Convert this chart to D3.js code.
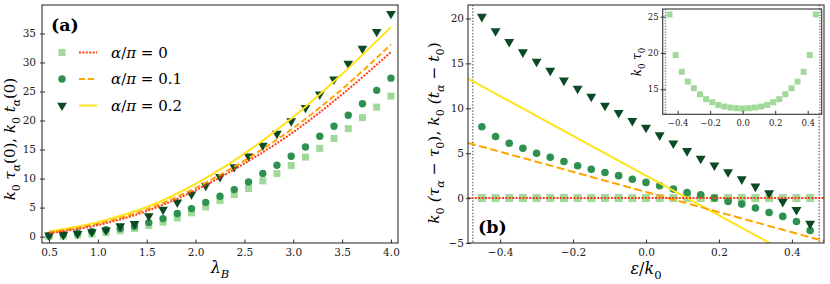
<!DOCTYPE html>
<html>
<head>
<meta charset="utf-8">
<script src="https://cdn.jsdelivr.net/npm/d3@7"></script>
<style>
  body { margin: 0; background: #fff; }
</style>
</head>
<body>
<svg width="830" height="284"></svg>
<script>
// ---- data ----
// panel (a): x = lambda_B
var lambdaB = [0.5, 0.646, 0.792, 0.938, 1.083, 1.229, 1.375, 1.521, 1.667, 1.813, 1.958, 2.104,
  2.25, 2.396, 2.542, 2.688, 2.833, 2.979, 3.125, 3.271, 3.417, 3.563, 3.708, 3.854, 4.0];
var tauA0 = [0.0, 0.1, 0.25, 0.45, 0.7, 1.0, 1.4, 1.9, 2.5, 3.2, 4.1, 5.1,
  6.2, 7.24, 8.28, 9.6, 10.86, 12.24, 13.7, 15.2, 16.9, 18.6, 20.5, 22.3, 24.2];
var tauA1 = [0.22, 0.4, 0.62, 0.91, 1.2, 1.4, 1.78, 2.41, 3.1, 3.97, 4.83, 5.9,
  6.95, 8.1, 9.4, 10.86, 12.3, 13.85, 15.45, 17.3, 19.0, 20.9, 22.9, 25.2, 27.3];
var tauA2 = [0.22, 0.3, 0.5, 0.8, 1.1, 1.8, 2.2, 3.55, 4.65, 5.9, 7.3, 8.8,
  10.3, 12.0, 13.85, 15.7, 17.75, 19.9, 22.2, 24.5, 27.1, 29.8, 32.4, 35.3, 38.4];
// t_alpha(0) curves
var lineLam = [0.5, 1.0, 1.5, 2.0, 2.5, 3.0, 3.5, 4.0];
var tA0 = [0.6, 2.0, 4.4, 8.0, 12.6, 18.0, 24.5, 31.8];
var tA1 = [0.7, 2.2, 4.7, 8.4, 13.1, 18.7, 25.4, 33.1];
var tA2 = [0.9, 2.5, 5.1, 9.1, 14.3, 20.6, 28.0, 36.1];

// panel (b): x = epsilon / k0
var eps = [-0.45, -0.4125, -0.375, -0.3375, -0.3, -0.2625, -0.225, -0.1875, -0.15, -0.1125, -0.075, -0.0375, 0,
  0.0375, 0.075, 0.1125, 0.15, 0.1875, 0.225, 0.2625, 0.3, 0.3375, 0.375, 0.4125, 0.45];
var dTau0 = [0, 0, 0, 0, 0, 0, 0, 0, 0, 0, 0, 0, 0, 0, 0, 0, 0, 0, 0, 0, 0, 0, 0, 0, 0];
var dTau1 = [7.95, 6.85, 6.1, 5.55, 5.0, 4.55, 4.07, 3.6, 3.2, 2.85, 2.5, 2.1, 1.75,
  1.37, 1.0, 0.62, 0.37, 0.0, -0.37, -0.67, -1.1, -1.6, -2.04, -2.6, -3.6];
var dTau2 = [20.2, 18.6, 17.4, 16.25, 15.2, 14.2, 13.1, 12.2, 11.3, 10.3, 9.5, 8.6, 7.85,
  7.0, 6.1, 5.25, 4.4, 3.65, 2.9, 2.1, 1.3, 0.55, -0.4, -1.3, -2.85];
var lineEps = [-0.488, 0, 0.488];
var dt0 = [0, 0, 0];
var dt1 = [6.15, 0.68, -4.79];
var dt2 = [13.3, 2.5, -8.3];
var edgeEps = [-0.475, 0.475];
// inset: k0 tau0
var tau0 = [25.3, 19.7, 17.4, 16.05, 15.14, 14.31, 13.63, 13.21, 12.84, 12.61, 12.48, 12.39, 12.34,
  12.39, 12.48, 12.61, 12.84, 13.21, 13.63, 14.31, 15.14, 16.05, 17.4, 19.7, 25.3];

var ticksA_x = [0.5, 1.0, 1.5, 2.0, 2.5, 3.0, 3.5, 4.0];
var ticksA_y = [0, 5, 10, 15, 20, 25, 30, 35];
var ticksB_x = [-0.4, -0.2, 0.0, 0.2, 0.4];
var ticksB_y = [-5, 0, 5, 10, 15, 20];
var ticksI_y = [15, 20, 25];

var legendLabels = ['0', '0.1', '0.2'];

var serif = '"DejaVu Serif", serif';

// ---- style ----
var cSq = '#a1d99b', cCi = '#2e9150', cTr = '#0b4a25';
var cRed = '#ff3c14', cOrange = '#ffa500', cYellow = '#ffe31a';
var frameColor = '#333';

var svg = d3.select('svg').attr('font-family', serif);
var minus = function(d) { return d3.format('.1f')(d).replace('-', '\u2212'); };
var intMinus = function(d) { return String(d).replace('-', '\u2212'); };

// little helper for math-ish labels: parts = [[text, flags]], flags: i = italic, s = subscript
function mathText(t, parts, fs) {
  var shift = 0;
  t.attr('font-family', serif);
  parts.forEach(function(p) {
    var sub = p[1].indexOf('s') >= 0;
    var target = sub ? fs * 0.3 : 0;
    t.append('tspan')
      .attr('dy', target - shift)
      .attr('font-style', p[1].indexOf('i') >= 0 ? 'italic' : 'normal')
      .attr('font-size', sub ? fs * 0.72 : fs)
      .text(p[0]);
    shift = target;
  });
}

function drawAxes(g, x, y, xt, yt, fs, xfmt, yfmt, padY) {
  var h = y.range()[0], w0 = x.range()[0];
  var ax = g.append('g').attr('transform', 'translate(0,' + h + ')')
    .call(d3.axisBottom(x).tickValues(xt).tickSizeInner(-3.5).tickSizeOuter(0).tickPadding(6).tickFormat(xfmt));
  var ay = g.append('g').attr('transform', 'translate(' + w0 + ',0)')
    .call(d3.axisLeft(y).tickValues(yt).tickSizeInner(-3).tickSizeOuter(0).tickPadding(padY).tickFormat(yfmt));
  ay.selectAll('.tick line').attr('x1', -2);
  [ax, ay].forEach(function(a) {
    a.attr('font-family', serif);
    a.select('.domain').remove();
    a.selectAll('.tick line').attr('stroke', frameColor);
    a.selectAll('text').attr('font-size', fs).attr('fill', '#222');
  });
}

function frame(g, x, y) {
  g.append('rect')
    .attr('x', x.range()[0]).attr('y', y.range()[1])
    .attr('width', x.range()[1] - x.range()[0]).attr('height', y.range()[0] - y.range()[1])
    .attr('fill', 'none').attr('stroke', frameColor).attr('stroke-width', 1.1);
}

function markers(g, xs, ys, x, y, kind, color, s) {
  var pts = xs.map(function(d, i) { return [x(d), y(ys[i])]; });
  var sym = kind === 'sq' ? d3.symbolSquare : kind === 'ci' ? d3.symbolCircle : d3.symbolTriangle;
  var area = kind === 'sq' ? s * s : kind === 'ci' ? Math.PI * s * s / 4 : s * s * 0.55;
  g.selectAll(null).data(pts).enter().append('path')
    .attr('d', d3.symbol().type(sym).size(area))
    .attr('transform', function(d) { return 'translate(' + d[0] + ',' + d[1] + ')' + (kind === 'tr' ? ' rotate(180)' : ''); })
    .attr('fill', color);
}

function curve(g, xs, ys, x, y, color, dash, lw, clip) {
  var line = d3.line().x(function(d) { return x(d[0]); }).y(function(d) { return y(d[1]); })
    .curve(d3.curveMonotoneX);
  var p = g.append('path').datum(xs.map(function(d, i) { return [d, ys[i]]; }))
    .attr('d', line).attr('fill', 'none').attr('stroke', color).attr('stroke-width', lw);
  if (dash) p.attr('stroke-dasharray', dash);
  if (clip) p.attr('clip-path', clip);
}

// ===================== panel (a) =====================
var xA = d3.scaleLinear().domain([0.428, 4.072]).range([42, 398]);
var yA = d3.scaleLinear().domain([-1.1, 39.9]).range([243, 5]);
var gA = svg.append('g');
markers(gA, lambdaB, tauA0, xA, yA, 'sq', cSq, 7);
markers(gA, lambdaB, tauA1, xA, yA, 'ci', cCi, 7.4);
markers(gA, lambdaB, tauA2, xA, yA, 'tr', cTr, 8.6);
curve(gA, lineLam, tA2, xA, yA, cYellow, null, 2);
curve(gA, lineLam, tA1, xA, yA, cOrange, '6,3', 2);
curve(gA, lineLam, tA0, xA, yA, cRed, '2,1.4', 2);
drawAxes(gA, xA, yA, ticksA_x, ticksA_y, 10.5, d3.format('.1f'), d3.format('d'), 6);
frame(gA, xA, yA);

gA.append('text').attr('x', 51).attr('y', 31).attr('font-size', 17.5).attr('font-weight', 'bold').text('(a)');

// legend
var legColors = [cSq, cCi, cTr];
var legKinds = ['sq', 'ci', 'tr'];
var legLines = [[cRed, '2,1.4'], [cOrange, '6,3'], [cYellow, null]];
legendLabels.forEach(function(lab, i) {
  var yy = 52.5 + i * 26.5;
  var lg = gA.append('g');
  var sym = legKinds[i] === 'sq' ? d3.symbolSquare : legKinds[i] === 'ci' ? d3.symbolCircle : d3.symbolTriangle;
  var s = [7, 7.4, 8.6][i];
  var area = legKinds[i] === 'sq' ? s * s : legKinds[i] === 'ci' ? Math.PI * s * s / 4 : s * s * 0.55;
  lg.append('path').attr('d', d3.symbol().type(sym).size(area))
    .attr('transform', 'translate(62,' + yy + ')' + (legKinds[i] === 'tr' ? ' rotate(180)' : ''))
    .attr('fill', legColors[i]);
  var ln = lg.append('line').attr('x1', 79).attr('x2', 97).attr('y1', yy).attr('y2', yy)
    .attr('stroke', legLines[i][0]).attr('stroke-width', 2);
  if (legLines[i][1]) ln.attr('stroke-dasharray', legLines[i][1]);
  var t = lg.append('text').attr('x', 111).attr('y', yy + 5).attr('font-size', 15);
  mathText(t, [['\u03b1', 'i'], ['/', ''], ['\u03c0', 'i'], [' = ' + lab, '']], 15);
});

// axis labels (a)
var labA = gA.append('text').attr('transform', 'translate(15,139) rotate(-90)')
  .attr('text-anchor', 'middle').attr('font-size', 15);
mathText(labA, [['k', 'i'], ['0', 's'], [' \u03c4', 'i'], ['\u03b1', 'si'], ['(0),  ', ''],
  ['k', 'i'], ['0', 's'], [' t', 'i'], ['\u03b1', 'si'], ['(0)', '']], 15);
var labAx = gA.append('text').attr('x', 220).attr('y', 273).attr('text-anchor', 'middle').attr('font-size', 16);
mathText(labAx, [['\u03bb', 'i'], ['B', 'si']], 16);

// ===================== panel (b) =====================
var xB = d3.scaleLinear().domain([-0.488, 0.488]).range([468, 824]);
var yB = d3.scaleLinear().domain([-5, 21.5]).range([243, 5]);
var gB = svg.append('g');
svg.append('clipPath').attr('id', 'clipB').append('rect')
  .attr('x', 468).attr('y', 5).attr('width', 356).attr('height', 238);

edgeEps.forEach(function(e) {
  gB.append('line').attr('x1', xB(e)).attr('x2', xB(e)).attr('y1', 5).attr('y2', 243)
    .attr('stroke', '#888').attr('stroke-width', 1.6).attr('stroke-dasharray', '1.5,1.6');
});
markers(gB, eps, dTau0, xB, yB, 'sq', cSq, 8);
markers(gB, eps, dTau1, xB, yB, 'ci', cCi, 7.6);
markers(gB, eps, dTau2, xB, yB, 'tr', cTr, 8.8);
curve(gB, lineEps, dt2, xB, yB, cYellow, null, 2, 'url(#clipB)');
curve(gB, lineEps, dt1, xB, yB, cOrange, '8,3.5', 2, 'url(#clipB)');
curve(gB, lineEps, dt0, xB, yB, cRed, '2,1.4', 2, 'url(#clipB)');
drawAxes(gB, xB, yB, ticksB_x, ticksB_y, 10.5, minus, intMinus, 4);
frame(gB, xB, yB);

gB.append('text').attr('x', 478).attr('y', 233).attr('font-size', 17.5).attr('font-weight', 'bold').text('(b)');

var labB = gB.append('text').attr('transform', 'translate(439,133) rotate(-90)')
  .attr('text-anchor', 'middle').attr('font-size', 15.5);
mathText(labB, [['k', 'i'], ['0', 's'], [' (\u03c4', 'i'], ['\u03b1', 'si'], [' \u2212 ', ''], ['\u03c4', 'i'], ['0', 's'], ['),  ', ''],
  ['k', 'i'], ['0', 's'], [' (t', 'i'], ['\u03b1', 'si'], [' \u2212 ', ''], ['t', 'i'], ['0', 's'], [')', '']], 15.5);
var labBx = gB.append('text').attr('x', 646).attr('y', 274).attr('text-anchor', 'middle').attr('font-size', 16);
mathText(labBx, [['\u03b5', 'i'], ['/', ''], ['k', 'i'], ['0', 's']], 16);

// ===================== inset =====================
var xI = d3.scaleLinear().domain([-0.492, 0.486]).range([662.7, 821.7]);
var yI = d3.scaleLinear().domain([11.55, 26.05]).range([114.3, 9]);
var gI = svg.append('g');
gI.append('rect').attr('x', 662.7).attr('y', 9).attr('width', 159).attr('height', 105.3).attr('fill', '#fff');
edgeEps.forEach(function(e) {
  gI.append('line').attr('x1', xI(e)).attr('x2', xI(e)).attr('y1', 9).attr('y2', 114.3)
    .attr('stroke', '#888').attr('stroke-width', 1.4).attr('stroke-dasharray', '1.3,1.5');
});
markers(gI, eps, tau0, xI, yI, 'sq', cSq, 6);
drawAxes(gI, xI, yI, ticksB_x, ticksI_y, 8.5, minus, d3.format('d'), 4);
frame(gI, xI, yI);
var labI = gI.append('text').attr('transform', 'translate(641,62) rotate(-90)')
  .attr('text-anchor', 'middle').attr('font-size', 12);
mathText(labI, [['k', 'i'], ['0', 's'], [' \u03c4', 'i'], ['0', 's']], 12);
</script>
</body>
</html>
